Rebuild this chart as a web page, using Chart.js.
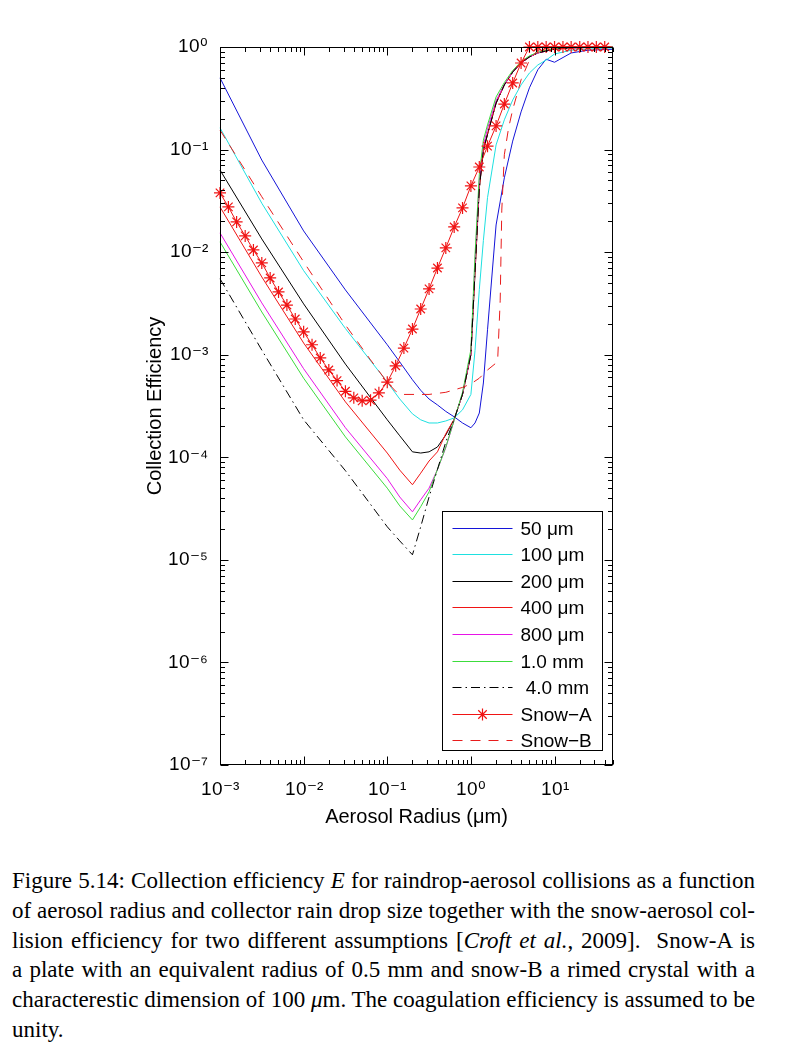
<!DOCTYPE html>
<html>
<head>
<meta charset="utf-8">
<script src="https://cdn.jsdelivr.net/npm/chart.js@4.4.0/dist/chart.umd.min.js"></script>
<style>
@font-face{font-family:"TickSans";src:local("DejaVu Sans"),local("DejaVuSans");unicode-range:U+2070-209F,U+00B2-00B3,U+00B9;}
@font-face{font-family:"TickSans";src:local("Liberation Sans"),local("LiberationSans-Regular"),local("LiberationSans");}
html,body{margin:0;padding:0;background:#fff;}
#wrap{position:relative;width:792px;height:1064px;overflow:hidden;}
#c{position:absolute;left:0;top:0;}
#cap{position:absolute;left:12px;top:866px;width:743px;font-family:"Liberation Serif","Times New Roman",serif;font-size:23px;line-height:29.8px;color:#000;}
#cap div{white-space:nowrap;text-align:left;}
</style>
</head>
<body>
<div id="wrap">
<canvas id="c" width="792" height="840"></canvas>
<div id="cap">
<div>Figure 5.14: Collection efficiency <i>E</i> for raindrop-aerosol collisions as a function</div>
<div>of aerosol radius and collector rain drop size together with the snow-aerosol col-</div>
<div>lision efficiency for two different assumptions [<i>Croft et al.</i>, 2009]. &nbsp;Snow-A is</div>
<div>a plate with an equivalent radius of 0.5 mm and snow-B a rimed crystal with a</div>
<div>characterestic dimension of 100 <i>μ</i>m. The coagulation efficiency is assumed to be</div>
<div class="last">unity.</div>
</div>
</div>
<script>
// justify each caption line to the text width by adjusting word spacing
(function () {
  const W = 743;
  document.querySelectorAll('#cap div').forEach(d => {
    if (d.classList.contains('last')) return;
    const span = document.createElement('span');
    while (d.firstChild) span.appendChild(d.firstChild);
    d.appendChild(span);
    const w = span.getBoundingClientRect().width;
    const n = (d.textContent.match(/[ \u00a0]/g) || []).length;
    if (n > 0) d.style.wordSpacing = ((W - w) / n).toFixed(2) + 'px';
  });
})();

// ---------- data ----------
const rainRadius = [0.001,0.00316,0.01,0.0316,0.1,0.141,0.2,0.251,0.316,0.398,0.501,0.631,0.794,1.0,1.12,1.26,1.41,1.58,2.0,2.51,3.16,3.98,5.01,6.31,7.94,10,15.8,25.1,50];
const e50um  = [0.50,0.079,0.0161,0.00428,0.00125,0.00085,0.00057,0.00045,0.00037,0.000324,0.00028,0.000248,0.000216,0.000194,0.000216,0.00027,0.00053,0.00175,0.0184,0.053,0.121,0.233,0.40,0.60,0.76,0.71,0.875,0.93,0.95];
const e100um = [0.163,0.030,0.0066,0.0018,0.00054,0.00037,0.000265,0.000232,0.000216,0.000216,0.000226,0.000242,0.00029,0.00041,0.0011,0.0043,0.013,0.034,0.111,0.195,0.304,0.427,0.558,0.668,0.746,0.855,0.93,0.955,0.98];
const e200um = [0.0632,0.01345,0.00313,0.00081,0.000232,0.000162,0.000113,0.00011,0.000113,0.000126,0.000165,0.000235,0.00041,0.001,0.0064,0.042,0.099,0.141,0.284,0.427,0.57,0.70,0.80,0.875,0.914,0.955,0.98,0.99,1.0];
const e400um = [0.0276,0.00573,0.0013,0.000347,0.00011,0.000075,0.000054,0.00007,0.000092,0.000113,0.00017,0.000235,0.00041,0.001,0.0064,0.042,0.099,0.141,0.284,0.427,0.57,0.70,0.80,0.875,0.914,0.955,0.98,0.99,1.0];
const e800um = [0.0154,0.0032,0.00073,0.000194,0.000062,0.000041,0.0000294,0.0000385,0.00005,0.000076,0.000124,0.00023,0.00042,0.00105,0.008,0.05,0.11,0.16,0.30,0.43,0.57,0.70,0.80,0.875,0.914,0.955,0.98,0.99,1.0];
const e1mm   = [0.0126,0.00261,0.00059,0.000158,0.00005,0.0000336,0.0000245,0.000033,0.000046,0.000076,0.000126,0.00023,0.00043,0.00112,0.0094,0.057,0.124,0.174,0.326,0.45,0.59,0.72,0.82,0.89,0.93,0.965,0.985,0.995,1.0];
const e4mm   = [0.0055,0.00111,0.000232,0.000074,0.000021,0.0000153,0.0000112,0.000021,0.000041,0.000076,0.000141,0.000235,0.00041,0.001,0.0064,0.042,0.099,0.141,0.284,0.427,0.57,0.70,0.80,0.875,0.914,0.955,0.98,0.99,1.0];

const snowARadius = [0.001,0.00126,0.00158,0.002,0.00251,0.00316,0.00398,0.00501,0.00631,0.00794,
  0.01,0.0126,0.0158,0.02,0.0251,0.0316,0.0398,0.0501,0.0631,0.0794,
  0.1,0.126,0.158,0.2,0.251,0.316,0.398,0.501,0.631,0.794,
  1,1.26,1.58,2,2.51,3.16,3.98,5.01,6.31,7.94,
  10,12.6,15.8,20,25.1,31.6,39.8];
const snowAE = [0.0378,0.0276,0.0197,0.0144,0.0105,0.00785,0.0056,0.00409,0.00305,0.00223,
  0.00167,0.00125,0.00093,0.00071,0.00056,0.00044,0.00038,0.000355,0.00036,0.000425,
  0.00054,0.00078,0.00116,0.00178,0.00279,0.00438,0.007,0.011,0.0176,0.027,
  0.0442,0.0676,0.108,0.17,0.278,0.446,0.698,1,1,1,
  1,1,1,1,1,1,1];

const snowBRadius = [0.001,0.00316,0.01,0.0316,0.0631,0.1,0.126,0.158,0.316,0.501,0.794,1,1.26,1.58,2.0,2.09,2.24,2.34,2.51,2.82,3.16,3.98,5.01,6.31,10,50];
const snowBE = [0.155,0.0347,0.00804,0.00195,0.00089,0.00054,0.00044,0.00041,0.00041,0.00043,0.00048,0.00052,0.00059,0.00071,0.00083,0.00089,0.0034,0.0257,0.089,0.162,0.245,0.479,0.746,0.93,1,1];

const seriesLabels = ['50 μm','100 μm','200 μm','400 μm','800 μm','1.0 mm',' 4.0 mm','Snow−A','Snow−B'];
const xTickValues = [0.001,0.01,0.1,1,10];
const xTickLabels = ['10⁻³','10⁻²','10⁻¹','10⁰','10¹'];
const yTickValues = [1e-7,1e-6,1e-5,1e-4,1e-3,1e-2,1e-1,1];
const yTickLabels = ['10⁻⁷','10⁻⁶','10⁻⁵','10⁻⁴','10⁻³','10⁻²','10⁻¹','10⁰'];

// ---------- build datasets ----------
const pts = (xs, ys) => xs.map((v, i) => ({x: v, y: ys[i]}));
const styles = [
  {c:'#1414d8'}, {c:'#1ee0e0'}, {c:'#000000'}, {c:'#f01414'}, {c:'#e614e6'},
  {c:'#3cdc3c'}, {c:'#000000', dash:[9,4,1.5,4]}, {c:'#f01414', star:true}, {c:'#e81c1c', dash:[10,8]}
];
const seriesData = [
  pts(rainRadius,e50um), pts(rainRadius,e100um), pts(rainRadius,e200um), pts(rainRadius,e400um),
  pts(rainRadius,e800um), pts(rainRadius,e1mm), pts(rainRadius,e4mm),
  pts(snowARadius,snowAE), pts(snowBRadius,snowBE)
];
const datasets = seriesData.map((d, i) => ({
  label: seriesLabels[i],
  data: d,
  borderColor: styles[i].c,
  backgroundColor: styles[i].c,
  borderWidth: 1,
  borderDash: styles[i].dash || [],
  pointStyle: 'star',
  pointRadius: styles[i].star ? 6 : 0,
  pointBorderWidth: 1.2,
  pointBorderColor: styles[i].c,
  fill: false,
  tension: 0,
  clip: styles[i].star ? 10 : 1,
  order: 20 - i
}));

const FONT = '"Liberation Sans", Arial, Helvetica, sans-serif';
const TICKFONT = '"TickSans", "Liberation Sans", Arial, sans-serif';

const framePlugin = {
  id: 'frame',
  afterDraw(chart) {
    const {ctx, chartArea: a, scales: {x, y}} = chart;
    ctx.save();
    ctx.strokeStyle = '#000'; ctx.lineWidth = 1; ctx.setLineDash([]);
    const L = Math.round(a.left) + 0.5, R = Math.round(a.right) - 0.5;
    const T = Math.round(a.top) + 0.5, B = Math.round(a.bottom) - 0.5;
    ctx.strokeRect(L, T, R - L, B - T);
    ctx.beginPath();
    for (let k = -3; k <= 1; k++) for (let m = 1; m <= 9; m++) {
      const v = m * Math.pow(10, k);
      if (v < x.min * 0.999 || v > x.max * 1.001) continue;
      const px = Math.round(x.getPixelForValue(v)) + 0.5;
      const len = m === 1 ? 8 : 4.5;
      ctx.moveTo(px, B); ctx.lineTo(px, B - len);
      ctx.moveTo(px, T); ctx.lineTo(px, T + len);
    }
    for (let k = -7; k <= 0; k++) for (let m = 1; m <= 9; m++) {
      const v = m * Math.pow(10, k);
      if (v > y.max * 1.001) continue;
      const py = Math.round(y.getPixelForValue(v)) + 0.5;
      const len = m === 1 ? 8 : 4.5;
      ctx.moveTo(L, py); ctx.lineTo(L + len, py);
      ctx.moveTo(R, py); ctx.lineTo(R - len, py);
    }
    ctx.stroke();
    ctx.restore();
  }
};

const legendPlugin = {
  id: 'boxLegend',
  afterDraw(chart) {
    const {ctx, chartArea: a} = chart;
    const ds = chart.data.datasets;
    const bx = Math.round(a.right) - 171 + 0.5, by = Math.round(a.bottom) - 254 + 0.5;
    const bw = 160, bh = 239;
    ctx.save();
    ctx.fillStyle = '#fff';
    ctx.fillRect(bx, by, bw, bh);
    ctx.strokeStyle = '#000'; ctx.lineWidth = 1; ctx.setLineDash([]);
    ctx.strokeRect(bx, by, bw, bh);
    ctx.font = '19px ' + FONT;
    ctx.textBaseline = 'middle';
    ctx.textAlign = 'left';
    ds.forEach((d, i) => {
      const yy = Math.round(by + 16 + i * 26.6) + 0.5;
      const x1 = bx + 10, x2 = bx + 70;
      ctx.strokeStyle = d.borderColor;
      ctx.lineWidth = 1;
      ctx.setLineDash(d.borderDash || []);
      ctx.beginPath(); ctx.moveTo(x1, yy); ctx.lineTo(x2, yy); ctx.stroke();
      ctx.setLineDash([]);
      if (d.pointRadius > 0) {
        const cx = (x1 + x2) / 2, r = d.pointRadius, q = r * Math.SQRT1_2;
        ctx.lineWidth = d.pointBorderWidth;
        ctx.beginPath();
        ctx.moveTo(cx - r, yy); ctx.lineTo(cx + r, yy);
        ctx.moveTo(cx, yy - r); ctx.lineTo(cx, yy + r);
        ctx.moveTo(cx - q, yy - q); ctx.lineTo(cx + q, yy + q);
        ctx.moveTo(cx - q, yy + q); ctx.lineTo(cx + q, yy - q);
        ctx.stroke();
      }
      ctx.fillStyle = '#000';
      ctx.fillText(d.label, bx + 78, yy + 1);
    });
    ctx.restore();
  }
};

function draw() {
  new Chart(document.getElementById('c'), {
    type: 'line',
    data: { datasets },
    options: {
      responsive: false,
      animation: false,
      devicePixelRatio: 1,
      layout: { padding: { left: 0, top: 47, right: 179, bottom: 0 } },
      plugins: { legend: { display: false }, tooltip: { enabled: false } },
      scales: {
        x: {
          type: 'logarithmic', min: 0.001, max: 50,
          grid: { display: false, drawTicks: false },
          border: { display: false },
          ticks: { padding: 13, color: '#000', autoSkip: false, maxRotation: 0,
            font: { family: TICKFONT, size: 19 },
            callback: (v, i) => xTickLabels[i] },
          afterBuildTicks: s => { s.ticks = xTickValues.map(v => ({value: v})); },
          afterFit: s => { s.height = 75; },
          title: { display: true, text: 'Aerosol Radius (μm)', color: '#000',
            font: { family: FONT, size: 20 }, padding: { top: 0, bottom: 11 } }
        },
        y: {
          type: 'logarithmic', min: 1e-7, max: 1,
          grid: { display: false, drawTicks: false },
          border: { display: false },
          ticks: { padding: 12, color: '#000', autoSkip: false,
            font: { family: TICKFONT, size: 19 },
            callback: (v, i) => yTickLabels[i] },
          afterBuildTicks: s => { s.ticks = yTickValues.map(v => ({value: v})); },
          afterFit: s => { s.width = 220; },
          title: { display: true, text: 'Collection Efficiency', color: '#000',
            font: { family: FONT, size: 20 }, padding: { top: 143, bottom: 0 } }
        }
      }
    },
    plugins: [framePlugin, legendPlugin]
  });
}

let drawn = false;
function drawOnce() { if (!drawn) { drawn = true; draw(); } }
if (document.fonts && document.fonts.load) {
  Promise.all([
    document.fonts.load('19px "TickSans"', '10⁻³⁰¹²⁴⁵⁶⁷'),
    document.fonts.load('19px "TickSans"', '10')
  ]).then(drawOnce, drawOnce);
  setTimeout(drawOnce, 400);
} else {
  drawOnce();
}
</script>
</body>
</html>
